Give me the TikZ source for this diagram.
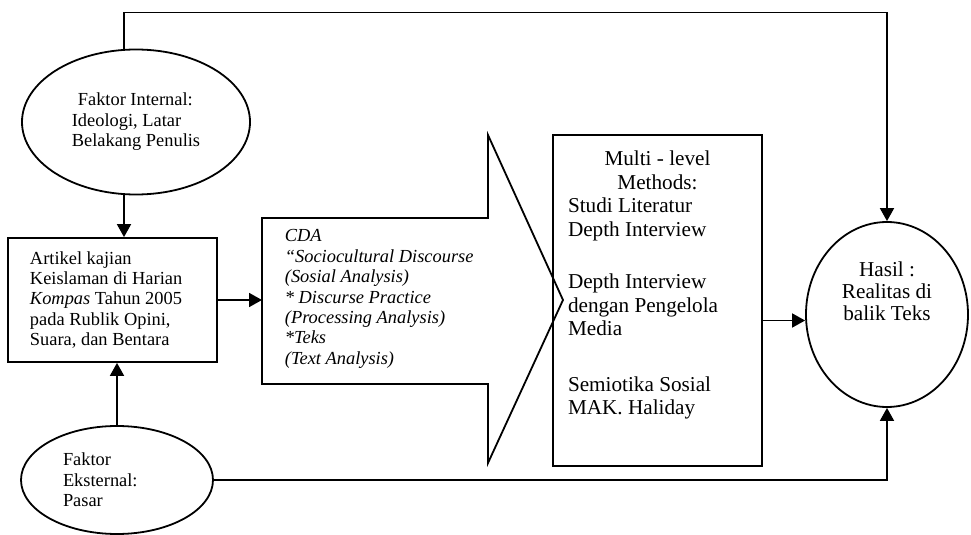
\documentclass[tikz,border=0pt]{standalone}
\usepackage{fontspec}
\setmainfont{Liberation Serif}
\usetikzlibrary{shapes.geometric,arrows.meta}

\begin{document}
\begin{tikzpicture}[x=0.5pt, y=-0.5pt, line width=0.9pt,
    small/.style={font=\fontsize{9.2}{10.2}\selectfont},
    big/.style={font=\fontsize{10.6}{11.75}\selectfont},
    plainsp/.style={execute at begin node={\spaceskip0pt\xspaceskip0pt}},
    oval/.style={draw, ellipse, inner sep=0pt},
    box/.style={draw, rectangle, inner sep=0pt},
    flow/.style={-{Triangle[length=6.5pt,width=7pt]}}]
    \useasboundingbox (0,0) rectangle (971,535);
    % Faktor
    \node[oval, small, minimum width=114pt, minimum height=72.5pt, align=left] (internal) at (136,122)
        {\hspace*{3pt}Faktor Internal:\\Ideologi, Latar\\Belakang Penulis};
    \node[oval, small, plainsp, minimum width=96pt, minimum height=54pt, text width=54pt, align=left] (eksternal) at (117,480)
        {Faktor\\Eksternal:\\Pasar};
    % Artikel
    \node[box, small, plainsp, minimum width=104.5pt, minimum height=62pt, text width=82.5pt, align=left] (artikel) at (112.5,300)
        {Artikel kajian\\Keislaman di Harian\\\emph{Kompas} Tahun 2005\\pada Rublik Opini,\\Suara, dan Bentara};
    % CDA (block arrow)
    \draw (262,218) -- (488,218) -- (488,135) -- (563,300) -- (488,463) -- (488,384) -- (262,384) -- cycle;
    \coordinate (cdain) at (262,300);
    \node[small, font=\fontsize{9.2}{10.2}\selectfont\itshape, align=left, anchor=west, inner sep=0pt] (cda) at (284,299)
        {CDA\\``Sociocultural Discourse\\(Sosial Analysis)\\* Discurse Practice\\(Processing Analysis)\\*Teks\\(Text Analysis)};
    % Methods
    \node[box, minimum width=104.5pt, minimum height=165.5pt] (multi) at (657.5,300.5) {};
    \node[big, plainsp, text width=89.5pt, align=left, anchor=north, inner sep=0pt] (methods) at (657.5,150)
        {\centering Multi - level\\Methods:\par\raggedright Studi Literatur\\Depth Interview\\[14.5pt]Depth Interview\\dengan Pengelola\\Media\\[16pt]Semiotika Sosial\\MAK. Haliday};
    % Hasil
    \node[oval, minimum width=81pt, minimum height=92.5pt] (hasil) at (887,314.5) {};
    \node[big, font=\fontsize{10.6}{11}\selectfont, align=center, inner sep=0pt] (hasiltext) at (887,291)
        {Hasil :\\Realitas di\\balik Teks};
    \coordinate (hasilin) at ([yshift=-3pt]hasil.west);
    % Connectors
    \draw[flow] ([xshift=-6pt]internal.north) -- ++(0,-36) -| (hasil.north);
    \draw[flow] ([xshift=-6pt]internal.south) -- ([xshift=-6pt]internal.south |- artikel.north);
    \draw[flow] (eksternal.north) -- (eksternal.north |- artikel.south);
    \draw[flow] (artikel.east) -- (cdain);
    \draw[flow] (multi.east |- hasilin) -- (hasilin);
    \draw[flow] (eksternal.east) -| (hasil.south);
\end{tikzpicture}
\end{document}
